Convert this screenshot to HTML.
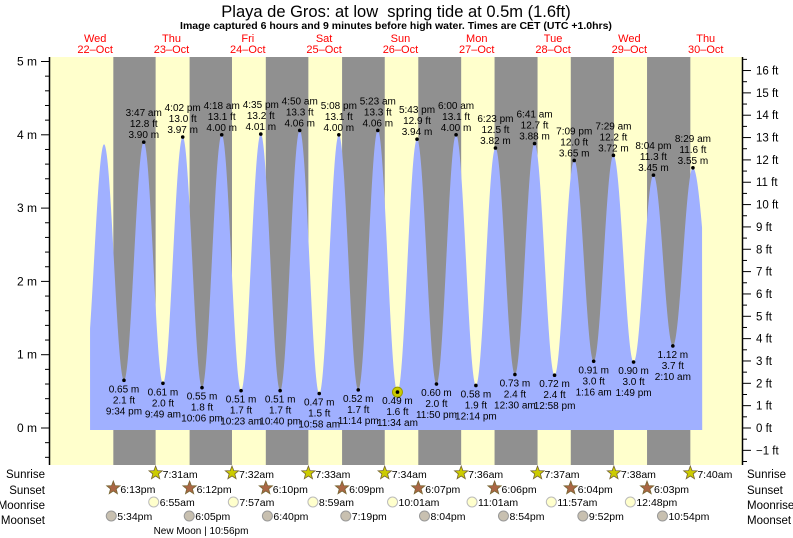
<!DOCTYPE html>
<html><head><meta charset="utf-8"><style>
body{margin:0;background:#fff;}
svg{display:block;font-family:"Liberation Sans",sans-serif;}
</style></head><body>
<svg id="s" width="793" height="538" viewBox="0 0 793 538" xmlns="http://www.w3.org/2000/svg"></svg>
<script>
const S=document.getElementById('s');
let o='';
const X=h=>55.4+h*3.18, Y=m=>428-73.3*m;
const T=(x,y,t,a,sz,c,w)=>`<text x="${x}" y="${y}" text-anchor="${a||'middle'}" font-size="${sz||10.5}" fill="${c||'#000'}" ${w?'font-weight="bold"':''}>${t}</text>`;
o+=`<rect x="50" y="57" width="692" height="408" fill="#ffffcc"/>`;
const sr=[7.517,7.533,7.55,7.567,7.6,7.617,7.633,7.667];
const ss=[18.217,18.2,18.167,18.15,18.117,18.1,18.067,18.05];
for(let d=0;d<8;d++){const a=X(24*d+ss[d]),b=X(24*(d+1)+sr[d]);o+=`<rect x="${a}" y="57" width="${b-a}" height="408" fill="#909090"/>`;}
const E=[[9,0.7],[15.3,3.87],[21.567,.65],[27.783,3.90],[33.817,.61],[40.033,3.97],[46.1,.55],[52.3,4.00],[58.383,.51],[64.583,4.01],[70.667,.51],[76.833,4.06],[82.967,.47],[89.133,4.00],[95.233,.52],[101.383,4.06],[107.567,.49],[113.717,3.94],[119.833,.60],[126.0,4.00],[132.233,.58],[138.383,3.82],[144.5,.73],[150.683,3.88],[156.967,.72],[163.15,3.65],[169.267,.91],[175.483,3.72],[181.817,.90],[188.067,3.45],[194.167,1.12],[200.483,3.55],[207.8,1.1]];
function ht(h){for(let i=0;i<E.length-1;i++){if(h>=E[i][0]&&h<=E[i+1][0]){const f=(h-E[i][0])/(E[i+1][0]-E[i][0]);return E[i][1]+(E[i+1][1]-E[i][1])*(1-Math.cos(Math.PI*f))/2;}}return 0;}
let p=`M${X(10.9)},430`;
for(let h=10.9;h<=203.4;h+=0.05)p+=`L${X(h).toFixed(2)},${Y(ht(h)).toFixed(2)}`;
p+=`L${X(203.4)},430Z`;
o+=`<path d="${p}" fill="#a0b0ff"/>`;
const hl=[[27.783,'3:47 am','12.8 ft','3.90 m',3.90],[40.033,'4:02 pm','13.0 ft','3.97 m',3.97],[52.3,'4:18 am','13.1 ft','4.00 m',4.00],[64.583,'4:35 pm','13.2 ft','4.01 m',4.01],[76.833,'4:50 am','13.3 ft','4.06 m',4.06],[89.133,'5:08 pm','13.1 ft','4.00 m',4.00],[101.383,'5:23 am','13.3 ft','4.06 m',4.06],[113.717,'5:43 pm','12.9 ft','3.94 m',3.94],[126.0,'6:00 am','13.1 ft','4.00 m',4.00],[138.383,'6:23 pm','12.5 ft','3.82 m',3.82],[150.683,'6:41 am','12.7 ft','3.88 m',3.88],[163.15,'7:09 pm','12.0 ft','3.65 m',3.65],[175.483,'7:29 am','12.2 ft','3.72 m',3.72],[188.067,'8:04 pm','11.3 ft','3.45 m',3.45],[200.483,'8:29 am','11.6 ft','3.55 m',3.55]];
hl.forEach(a=>{const x=X(a[0]),y=Y(a[4]);o+=`<circle cx="${x}" cy="${y}" r="1.8"/>`+T(x,y-26,a[1],'middle',10)+T(x,y-15,a[2],'middle',10)+T(x,y-4,a[3],'middle',10);});
const ll=[[21.567,.65,'2.1 ft','9:34 pm'],[33.817,.61,'2.0 ft','9:49 am'],[46.1,.55,'1.8 ft','10:06 pm'],[58.383,.51,'1.7 ft','10:23 am'],[70.667,.51,'1.7 ft','10:40 pm'],[82.967,.47,'1.5 ft','10:58 am'],[95.233,.52,'1.7 ft','11:14 pm'],[107.567,.49,'1.6 ft','11:34 am'],[119.833,.60,'2.0 ft','11:50 pm'],[132.233,.58,'1.9 ft','12:14 pm'],[144.5,.73,'2.4 ft','12:30 am'],[156.967,.72,'2.4 ft','12:58 pm'],[169.267,.91,'3.0 ft','1:16 am'],[181.817,.90,'3.0 ft','1:49 pm'],[194.167,1.12,'3.7 ft','2:10 am']];
ll.forEach(a=>{const x=X(a[0]),y=Y(a[1]);if(a[0]==107.567)o+=`<circle cx="${x}" cy="${y}" r="5" fill="#cccc00" stroke="#999900"/>`;o+=`<circle cx="${x}" cy="${y}" r="1.8"/>`+T(x,y+12,a[1].toFixed(2)+' m','middle',10)+T(x,y+23,a[2],'middle',10)+T(x,y+34,a[3],'middle',10);});
o+=`<line x1="49.5" y1="57" x2="49.5" y2="465" stroke="#000" stroke-width="1.5"/><line x1="742.5" y1="57" x2="742.5" y2="465" stroke="#000" stroke-width="1.5"/>`;
for(let i=-2;i<=25;i++){const m=i*0.2,y=Y(m);if(y<57||y>465)continue;const maj=i%5==0;o+=`<line x1="${maj?41:45}" y1="${y}" x2="49" y2="${y}" stroke="#000"/>`;if(maj)o+=T(37,y+4,(i/5)+' m','end',12);}
for(let i=-3;i<=33;i++){const f=i*0.5,y=428-f*0.3048*73.3;if(y<57||y>465)continue;const maj=i%2==0;o+=`<line x1="743" y1="${y}" x2="${maj?751:747}" y2="${y}" stroke="#000"/>`;if(maj)o+=T(756,y+4,(f<0?'\u2212'+(-f):f)+' ft','start',11.5);}
o+=T(396,17,'Playa de Gros: at low&#160; spring tide at 0.5m (1.6ft)','middle',16.5);
o+=T(396,29,'Image captured 6 hours and 9 minutes before high water. Times are CET (UTC +1.0hrs)','middle',10.5,'#000',1);
const dn=['Wed','Thu','Fri','Sat','Sun','Mon','Tue','Wed','Thu'];
for(let d=0;d<9;d++){const x=X(24*d+12.5);o+=T(x,42,dn[d],'middle',11,'#ff0000')+T(x,53,(22+d)+'\u2013Oct','middle',11,'#ff0000');}
[['Sunrise',474],['Sunset',490],['Moonrise',505],['Moonset',520]].forEach(r=>{o+=T(45,r[1]+4,r[0],'end',11.5)+T(747,r[1]+4,r[0],'start',11.5);});
function star(x,y,c){let pts='';for(let k=0;k<10;k++){const r=k%2?3:7,a=-Math.PI/2+k*Math.PI/5;pts+=(x+r*Math.cos(a)).toFixed(1)+','+(y+r*Math.sin(a)).toFixed(1)+' ';}return `<polygon points="${pts}" fill="${c}" stroke="#776633" stroke-width="0.8"/>`;}
const srt=['7:31am','7:32am','7:33am','7:34am','7:36am','7:37am','7:38am','7:40am'];
const sst=['6:13pm','6:12pm','6:10pm','6:09pm','6:07pm','6:06pm','6:04pm','6:03pm'];
for(let d=0;d<8;d++){let x=X(24*(d+1)+sr[d]);o+=star(x,473,'#cccc00')+T(x+7,478,srt[d],'start',10.5);
x=X(24*d+ss[d]);o+=star(x,488,'#aa6644')+T(x+7,493,sst[d],'start',10.5);}
const mr=[[30.917,'6:55am'],[55.95,'7:57am'],[80.983,'8:59am'],[106.017,'10:01am'],[131.017,'11:01am'],[155.95,'11:57am'],[180.8,'12:48pm']];
mr.forEach(a=>{const x=X(a[0]);o+=`<circle cx="${x}" cy="502" r="5" fill="#ffffcc" stroke="#bbb"/>`+T(x+6,506,a[1],'start',10.5);});
const ms=[[17.567,'5:34pm'],[42.083,'6:05pm'],[66.667,'6:40pm'],[91.317,'7:19pm'],[116.067,'8:04pm'],[140.9,'8:54pm'],[165.867,'9:52pm'],[190.9,'10:54pm']];
ms.forEach(a=>{const x=X(a[0]);o+=`<circle cx="${x}" cy="516" r="5" fill="#c8c0b0" stroke="#999"/>`+T(x+6,520,a[1],'start',10.5);});
o+=T(201,534,'New Moon | 10:56pm','middle',10);
S.innerHTML=o;
</script>
</body></html>
